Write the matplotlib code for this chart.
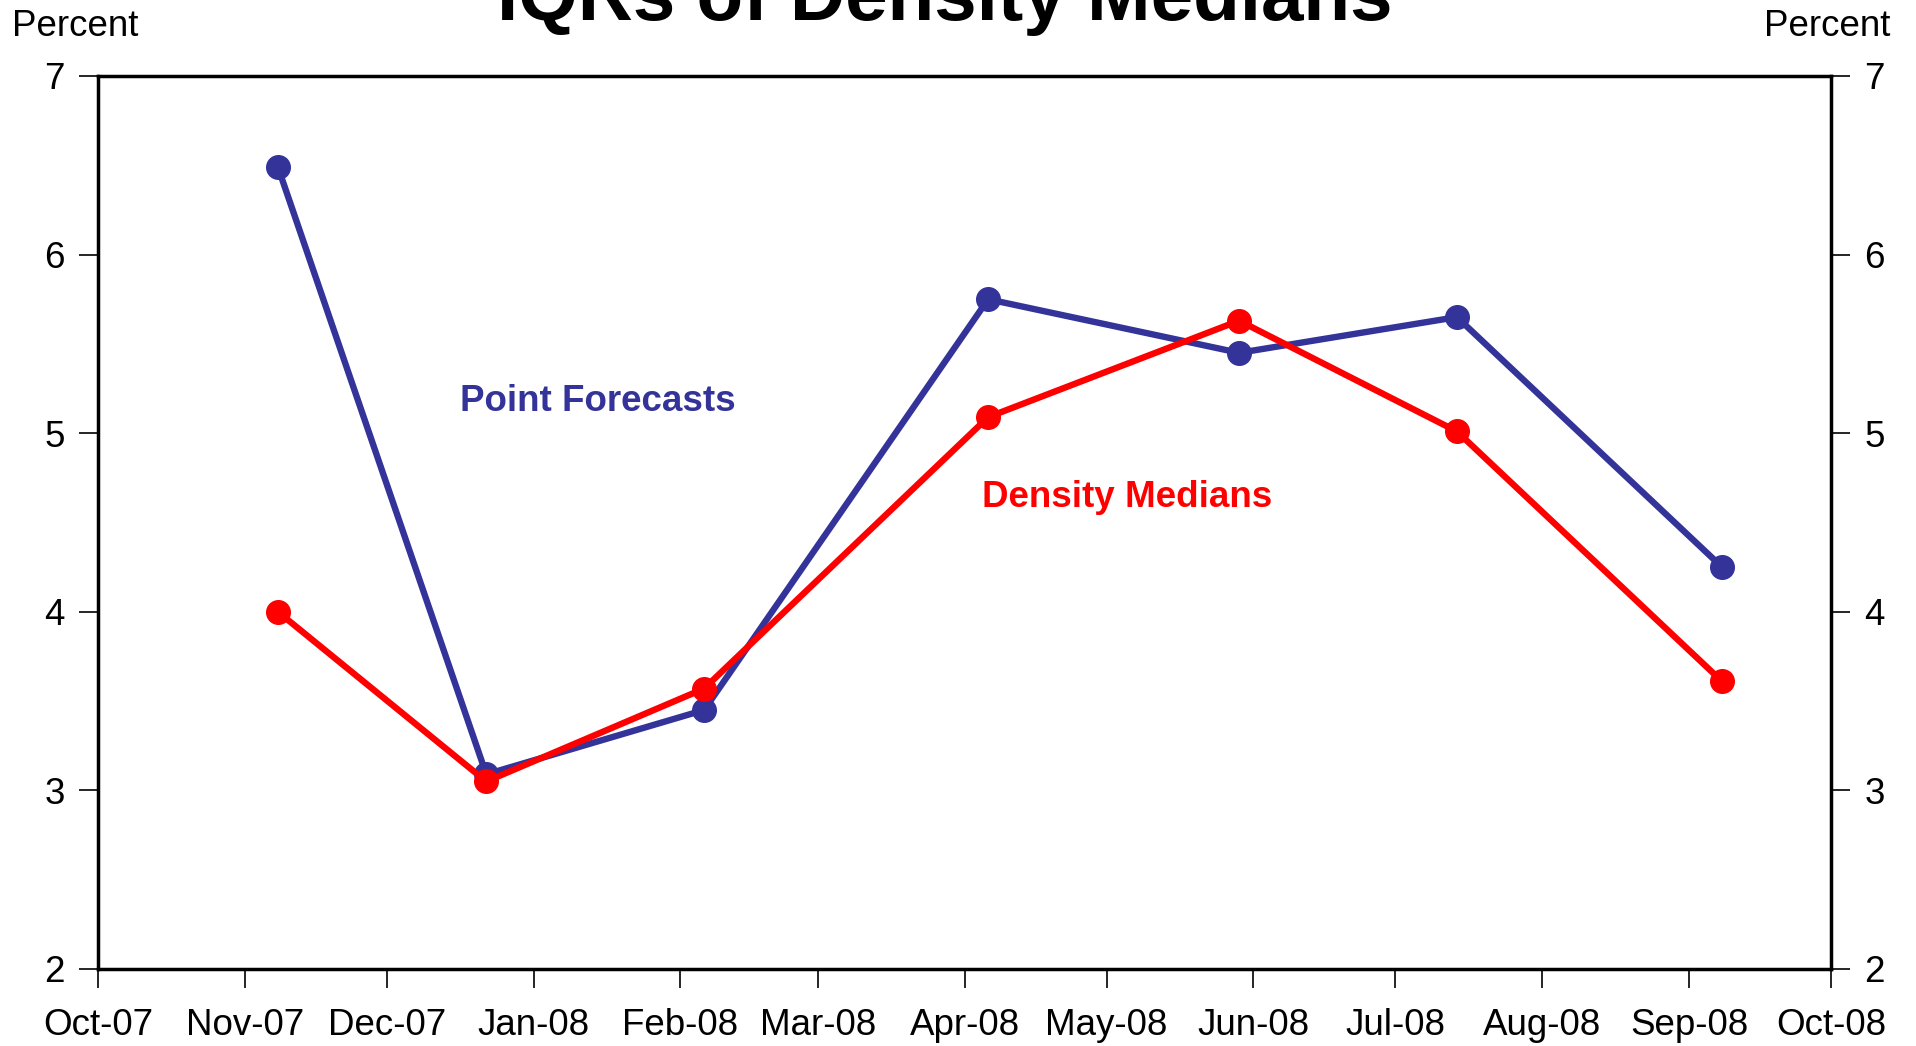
import matplotlib
matplotlib.use("Agg")
from matplotlib import pyplot as plt
import matplotlib.dates as mdates
import datetime as dt

plt.rcParams['font.family'] = ['Liberation Sans', 'DejaVu Sans']

dates = [dt.date(2007, 11, 8), dt.date(2007, 12, 22), dt.date(2008, 2, 6),
         dt.date(2008, 4, 6), dt.date(2008, 5, 29), dt.date(2008, 7, 14),
         dt.date(2008, 9, 8)]
pointForecasts = [6.49, 3.09, 3.45, 5.75, 5.45, 5.65, 4.25]
densityMedians = [4.00, 3.05, 3.57, 5.09, 5.63, 5.01, 3.61]
monthTicks = [dt.date(2007, m, 1) for m in (10, 11, 12)] + \
    [dt.date(2008, m, 1) for m in range(1, 11)]
yTicks = [2, 3, 4, 5, 6, 7]

blue = "#333399"
red = "#ff0000"

fig = plt.figure(figsize=(19.16, 10.46), dpi=100)
ax = fig.add_axes([98 / 1916, 1 - 969 / 1046, (1831 - 98) / 1916, (969 - 76) / 1046])

ax.plot(dates, pointForecasts, "-o", color=blue, lw=4.6, ms=17, zorder=3)
ax.plot(dates, densityMedians, "-o", color=red, lw=4.6, ms=17, zorder=4)

ax.set_xlim(dt.date(2007, 10, 1), dt.date(2008, 10, 1))
ax.set_ylim(2, 7)
ax.set_xticks(monthTicks)
ax.xaxis.set_major_formatter(mdates.DateFormatter("%b-%y"))
ax.set_yticks(yTicks)

for s in ax.spines.values():
    s.set_linewidth(2.5)
ax.tick_params(axis="x", direction="out", length=14, width=1.2, labelsize=26.5, pad=14)
ax.tick_params(axis="y", direction="out", length=14, width=1.2, labelsize=26.5, pad=10,
               right=True, labelright=True)

ax.text(0.2087, 0.635, "Point Forecasts", transform=ax.transAxes, color=blue,
        fontsize=26.5, fontweight="bold", ha="left", va="center")
ax.text(0.51, 0.528, "Density Medians", transform=ax.transAxes, color=red,
        fontsize=26.5, fontweight="bold", ha="left", va="center")

fig.text(12 / 1916, 1 - 26 / 1046, "Percent", fontsize=26.5, ha="left", va="center")
fig.text(1890 / 1916, 1 - 26 / 1046, "Percent", fontsize=26.5, ha="right", va="center")
fig.text(0.493, 1 - 20 / 1046, "IQRs of Density Medians", fontsize=55, fontweight="bold",
         ha="center", va="baseline")

fig.savefig("out.png", dpi=100)
